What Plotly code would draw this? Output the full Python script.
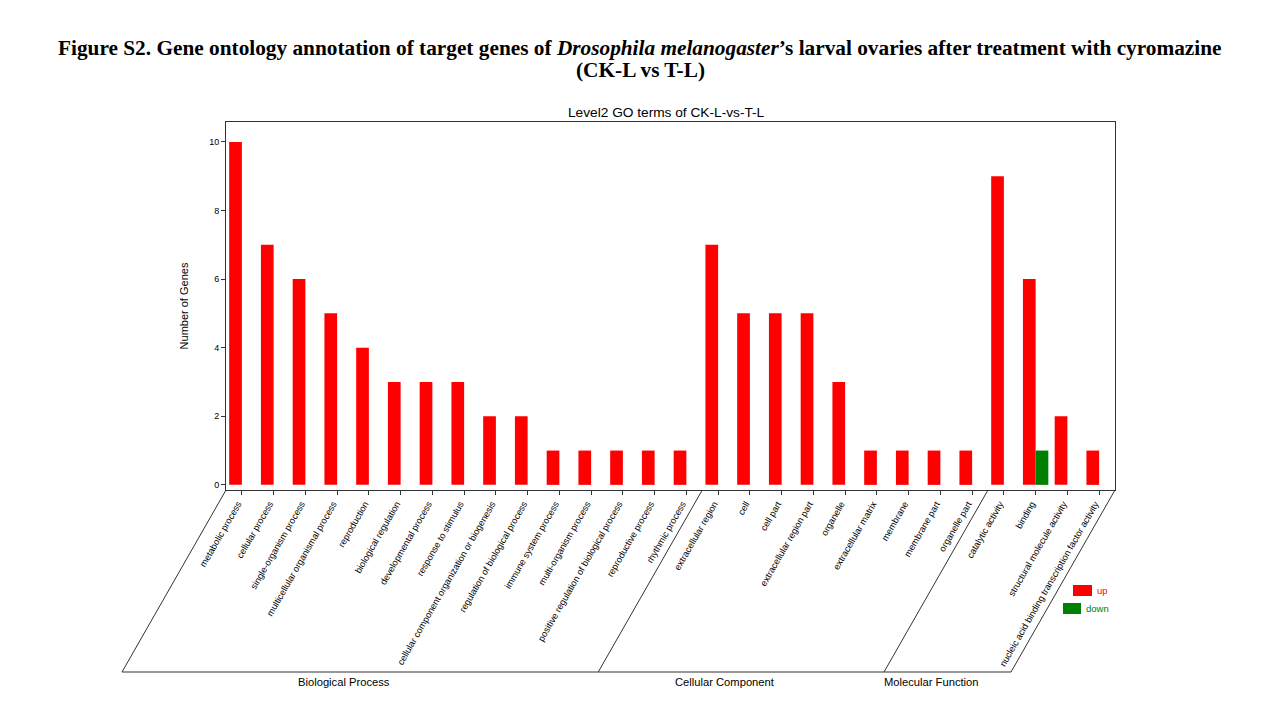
import plotly.graph_objects as go

# ---------------- data ----------------
bp_terms = ["metabolic process", "cellular process", "single-organism process",
            "multicellular organismal process", "reproduction", "biological regulation",
            "developmental process", "response to stimulus",
            "cellular component organization or biogenesis",
            "regulation of biological process", "immune system process",
            "multi-organism process", "positive regulation of biological process",
            "reproductive process", "rhythmic process"]
cc_terms = ["extracellular region", "cell", "cell part", "extracellular region part",
            "organelle", "extracellular matrix", "membrane", "membrane part",
            "organelle part"]
mf_terms = ["catalytic activity", "binding", "structural molecule activity",
            "nucleic acid binding transcription factor activity"]

bp_up = [10, 7, 6, 5, 4, 3, 3, 3, 2, 2, 1, 1, 1, 1, 1]
cc_up = [7, 5, 5, 5, 3, 1, 1, 1, 1]
mf_up = [9, 6, 2, 1]

bp_down = [0] * 15
cc_down = [0] * 9
mf_down = [0, 1, 0, 0]

group_names = ["Biological Process", "Cellular Component", "Molecular Function"]
y_ticks = [0, 2, 4, 6, 8, 10]

categories = bp_terms + cc_terms + mf_terms
up_vals = bp_up + cc_up + mf_up
down_vals = bp_down + cc_down + mf_down
group_sizes = [len(bp_terms), len(cc_terms), len(mf_terms)]

# ---------------- layout geometry (page pixels; page body has 8px margin) ----------------
OFF = 8
W, H = 1280 - 2 * OFF, 720 - 2 * OFF
PLOT_L, PLOT_R, PLOT_T, PLOT_B = 226, 1115, 122, 490   # plot area in page pixels
L = PLOT_L - OFF
T = PLOT_T - OFF
R = W - (PLOT_R - OFF)
B = H - (PLOT_B - OFF)
PW = PLOT_R - PLOT_L
PH = PLOT_B - PLOT_T
N = len(categories)


def px_x(px):
    return (px - PLOT_L) / PW


def px_y(py):
    return (PLOT_B - py) / PH


RED = "#FF0000"
GREEN = "#008000"
FONT = "Liberation Sans, Arial, sans-serif"

fig = go.Figure()
fig.add_trace(go.Bar(x=categories, y=up_vals, name="up",
                     marker=dict(color=RED, line=dict(width=0))))
fig.add_trace(go.Bar(x=categories, y=down_vals, name="down",
                     marker=dict(color=GREEN, line=dict(width=0))))

shapes = []
annotations = []

# slanted group separators and baseline
slant_dx = 104 / PW
y_bottom = px_y(672)
boundaries = [0]
for s in group_sizes:
    boundaries.append(boundaries[-1] + s)
bound_paper = [b / N for b in boundaries]
for bx in bound_paper:
    shapes.append(dict(type="line", xref="paper", yref="paper",
                       x0=bx, y0=0, x1=bx - slant_dx, y1=y_bottom,
                       line=dict(color="#333333", width=1)))
shapes.append(dict(type="line", xref="paper", yref="paper",
                   x0=bound_paper[0] - slant_dx, y0=y_bottom,
                   x1=bound_paper[-1] - slant_dx, y1=y_bottom,
                   line=dict(color="#333333", width=1)))

# group labels
for i, name in enumerate(group_names):
    cx = (bound_paper[i] + bound_paper[i + 1]) / 2 - slant_dx - 16 / PW
    annotations.append(dict(text=name, xref="paper", yref="paper",
                            x=cx, y=px_y(682), showarrow=False,
                            xanchor="center", yanchor="middle",
                            font=dict(family=FONT, size=11.2, color="#000000")))

# manual legend
legend_items = [("up", RED, 1073, 1092, 585, 596, 1095),
                ("down", GREEN, 1063, 1081, 603, 614, 1084)]
for name, col, x0, x1, y0, y1, tx in legend_items:
    shapes.append(dict(type="rect", xref="paper", yref="paper",
                       x0=px_x(x0), x1=px_x(x1), y0=px_y(y0), y1=px_y(y1),
                       fillcolor=col, line=dict(width=0)))
    annotations.append(dict(text=name, xref="paper", yref="paper",
                            x=px_x(tx), y=px_y((y0 + y1) / 2), showarrow=False,
                            xanchor="left", yanchor="middle",
                            font=dict(family=FONT, size=9.5, color=col)))

# chart title
annotations.append(dict(text="Level2 GO terms of CK-L-vs-T-L", xref="paper", yref="paper",
                        x=px_x(666), y=px_y(112), showarrow=False,
                        xanchor="center", yanchor="middle",
                        font=dict(family=FONT, size=13.7, color="#000000")))

# figure caption (two lines)
cap_font = dict(family="Liberation Serif, Times New Roman, serif", size=21.3,
                color="#000000", weight="bold")
caption_lines = [
    ("Figure S2. Gene ontology annotation of target genes of "
     "<i>Drosophila melanogaster</i>’s larval ovaries after treatment with cyromazine", 48),
    ("(CK-L vs T-L)", 70),
]
for txt, cy in caption_lines:
    annotations.append(dict(text=txt, xref="paper", yref="paper",
                            x=px_x(640), y=px_y(cy), showarrow=False,
                            xanchor="center", yanchor="middle", align="center",
                            font=cap_font))

fig.update_layout(
    width=W, height=H,
    margin=dict(l=L, r=R, t=T, b=B, autoexpand=False),
    paper_bgcolor="white", plot_bgcolor="white",
    barmode="group", bargap=0.2, bargroupgap=0,
    showlegend=False,
    shapes=shapes, annotations=annotations,
    font=dict(family=FONT, color="#000000"),
)
fig.update_xaxes(
    type="category", range=[-0.5, N - 0.5], automargin=False,
    showline=True, linecolor="#333333", linewidth=1, mirror=True,
    ticks="outside", ticklen=4, tickcolor="#333333",
    tickangle=-60, tickfont=dict(family=FONT, size=9.2, color="#000000"),
    ticklabelshift=-4,
    showgrid=False, zeroline=False,
)
fig.update_yaxes(
    range=[-0.15, 10.58], automargin=False,
    tickvals=y_ticks,
    showline=True, linecolor="#333333", linewidth=1, mirror=True,
    ticks="outside", ticklen=4, tickcolor="#333333",
    tickfont=dict(family=FONT, size=9, color="#000000"),
    title=dict(text="Number of Genes", font=dict(family=FONT, size=11), standoff=18),
    showgrid=False, zeroline=False,
)

fig.write_html("out.html")
